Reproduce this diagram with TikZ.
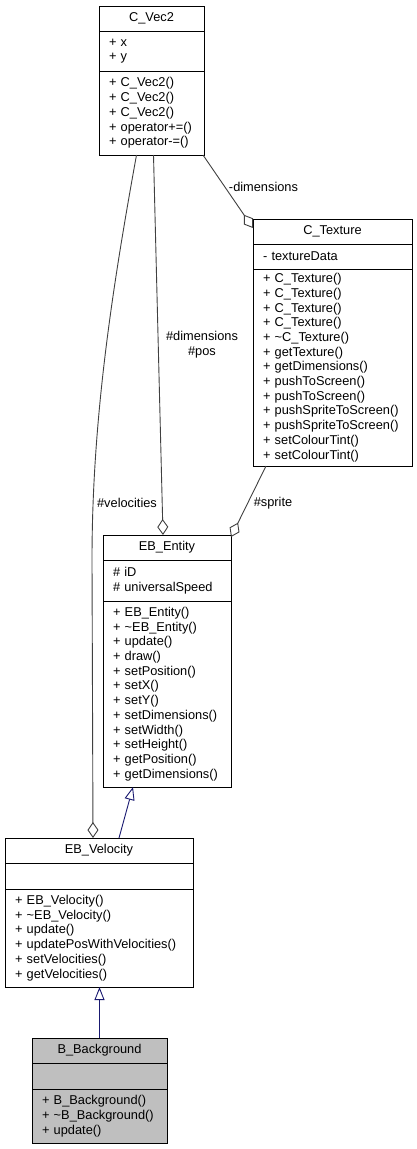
\documentclass[tikz,border=0pt]{standalone}
\usepackage{fontspec}
\setmainfont{Liberation Sans}
\usepackage{tikz}
\usetikzlibrary{positioning,arrows.meta}

\definecolor{edgegray}{HTML}{404040}
\definecolor{inheritblue}{HTML}{191970}
\definecolor{selfgray}{HTML}{BFBFBF}

\begin{document}
\begin{tikzpicture}[
        x=1pt, y=-1pt,
        every node/.style={font=\fontsize{12.8}{14.7}\selectfont},
        box/.style={draw, line width=1pt, fill=white, inner xsep=10pt, inner ysep=0pt, outer sep=0pt},
        classname/.style={box, align=center, minimum height=25pt},
        members/.style={box, align=left},
        lbl/.style={inner sep=1pt, align=center},
        agg/.style={draw=edgegray, line width=0.9pt, -{Diamond[open, length=16pt, width=11pt]}},
        inherit/.style={draw=inheritblue, line width=0.9pt, -{Triangle[open, length=13pt, width=10pt]}},
      ]
      \useasboundingbox (0,0) rectangle (417,1149);

      % C_Vec2
      \node[classname, text width=85pt, anchor=north west] (vec) at (99,6) {C\_Vec2};
      \node[members, text width=85pt, minimum height=40pt, below=0pt of vec] (vecattr) {+ x\\+ y};
      \node[members, text width=85pt, minimum height=84pt, below=0pt of vecattr] (vecops)
        {+ C\_Vec2()\\+ C\_Vec2()\\+ C\_Vec2()\\+ operator+=()\\+ operator-=()};

      % C_Texture
      \node[classname, text width=139pt, anchor=north west] (tex) at (253,219) {C\_Texture};
      \node[members, text width=139pt, minimum height=25pt, below=0pt of tex] (texattr) {- textureData};
      \node[members, text width=139pt, minimum height=197pt, below=0pt of texattr] (texops)
        {+ C\_Texture()\\+ C\_Texture()\\+ C\_Texture()\\+ C\_Texture()\\+ \textasciitilde C\_Texture()\\+ getTexture()\\+ getDimensions()\\+ pushToScreen()\\+ pushToScreen()\\+ pushSpriteToScreen()\\+ pushSpriteToScreen()\\+ setColourTint()\\+ setColourTint()};

      % EB_Entity
      \node[classname, text width=108pt, anchor=north west] (ent) at (103,535) {EB\_Entity};
      \node[members, text width=108pt, minimum height=41pt, below=0pt of ent] (entattr) {\# iD\\\# universalSpeed};
      \node[members, text width=108pt, minimum height=186pt, below=0pt of entattr] (entops)
        {+ EB\_Entity()\\+ \textasciitilde EB\_Entity()\\+ update()\\+ draw()\\+ setPosition()\\+ setX()\\+ setY()\\+ setDimensions()\\+ setWidth()\\+ setHeight()\\+ getPosition()\\+ getDimensions()};

      % EB_Velocity
      \node[classname, text width=168pt, anchor=north west] (vel) at (5,838) {EB\_Velocity};
      \node[members, text width=168pt, minimum height=26pt, below=0pt of vel] (velattr) {};
      \node[members, text width=168pt, minimum height=98pt, below=0pt of velattr] (velops)
        {+ EB\_Velocity()\\+ \textasciitilde EB\_Velocity()\\+ update()\\+ updatePosWithVelocities()\\+ setVelocities()\\+ getVelocities()};

      % B_Background
      \node[classname, fill=selfgray, text width=115pt, anchor=north west] (bg) at (32,1038) {B\_Background};
      \node[members, fill=selfgray, text width=115pt, minimum height=26pt, below=0pt of bg] (bgattr) {};
      \node[members, fill=selfgray, text width=115pt, minimum height=54pt, below=0pt of bgattr] (bgops)
        {+ B\_Background()\\+ \textasciitilde B\_Background()\\+ update()};

      % usage edges
      \draw[agg] ([xshift=-1pt]vecops.south east) -- ([yshift=-9pt]tex.north west);
      \node[lbl] (dimlbl) at (263.5,187) {-dimensions};
      \draw[agg] ([xshift=2pt]vecops.south) -- ([xshift=-4pt]ent.north);
      \node[lbl] (poslbl) at (202,344.5) {\#dimensions\\\#pos};
      \draw[agg] ([xshift=-15pt]vecops.south) .. controls (112,290) and (92,420) .. (92,560)
        -- ([xshift=-6pt]vel.north);
      \node[lbl] (vellbl) at (127,503) {\#velocities};
      \draw[agg] ([xshift=13pt]texops.south west) -- ([yshift=-2pt]ent.north east);
      \node[lbl] (spritelbl) at (273,503) {\#sprite};

      % inheritance
      \draw[inherit] ([xshift=20pt]vel.north) -- ([xshift=-34pt]entops.south);
      \draw[inherit] (bg.north) -- (bg.north |- velops.south);
    \end{tikzpicture}
\end{document}
